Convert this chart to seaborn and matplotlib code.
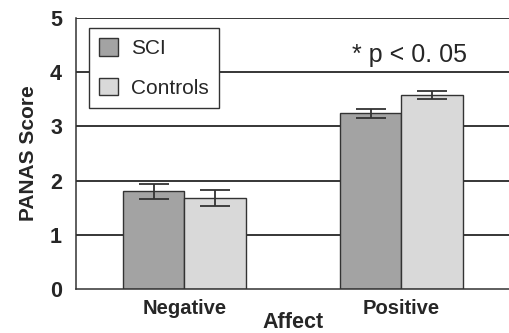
import seaborn as sns
import matplotlib.pyplot as plt
import pandas as pd
import numpy as np

# data
affect = ['Negative', 'Positive']
groups = ['SCI', 'Controls']
sci_mean = [1.80, 3.24]
sci_se = [0.14, 0.09]
ctrl_mean = [1.68, 3.58]
ctrl_se = [0.14, 0.08]
y_ticks = [0, 1, 2, 3, 4, 5]


def main():
    sns.set_style('white')
    plt.rcParams['font.family'] = ['Liberation Sans', 'DejaVu Sans']

    df = pd.DataFrame({
        'Affect': affect * 2,
        'Group': [groups[0]] * 2 + [groups[1]] * 2,
        'Score': sci_mean + ctrl_mean,
    })
    errs = sci_se + ctrl_se

    fig = plt.figure(figsize=(5.1, 3.33), dpi=100)
    ax = fig.add_axes([0.149, 0.132, 0.851, 0.814])

    # gridlines behind the bars
    for y in y_ticks[1:]:
        ax.axhline(y, color='black', lw=1.1, zorder=0)

    sns.barplot(data=df, x='Affect', y='Score', hue='Group', order=affect,
                hue_order=groups, palette=['#a3a3a3', '#d9d9d9'],
                width=0.57, edgecolor='#333333', linewidth=1.0,
                errorbar=None, ax=ax, zorder=2)

    # error bars on top of each bar (patches are in hue order)
    bars = [p for p in ax.patches if p.get_height() > 0][:4]
    xs = [p.get_x() + p.get_width() / 2 for p in bars]
    hs = [p.get_height() for p in bars]
    ax.errorbar(xs, hs, yerr=errs, fmt='none', ecolor='#333333',
                elinewidth=1.3, capsize=10.5, capthick=1.3, zorder=3)

    ax.set_xlim(-0.5, 1.5)
    ax.set_ylim(0, 5)
    ax.set_yticks(y_ticks)
    ax.set_xticks([0.5], minor=True)
    ax.tick_params(axis='x', which='major', length=0, pad=7)
    ax.tick_params(axis='x', which='minor', length=6, width=1, direction='out',
                   color='#333333')
    ax.tick_params(axis='y', length=7, width=1, direction='out', color='#333333',
                   pad=3)
    for lab in ax.get_yticklabels():
        lab.set_fontsize(15.5)
        lab.set_fontweight('bold')
    for lab in ax.get_xticklabels():
        lab.set_fontsize(14.5)
        lab.set_fontweight('bold')

    for s in ['top', 'right']:
        ax.spines[s].set_visible(False)
    for s in ['left', 'bottom']:
        ax.spines[s].set_color('#333333')
        ax.spines[s].set_linewidth(1.1)

    ax.set_xlabel('Affect', fontsize=15.5, fontweight='bold', labelpad=-4)
    ax.set_ylabel('PANAS Score', fontsize=15, fontweight='bold', labelpad=9)

    ax.text(1.035, 4.32, '* p < 0. 05', fontsize=18, ha='center', va='center')

    leg = ax.legend(loc='upper left', bbox_to_anchor=(89 / 510, 1 - 28 / 333),
                    bbox_transform=fig.transFigure, fontsize=15,
                    frameon=True, fancybox=False, handlelength=0.9,
                    handleheight=0.9, handletextpad=0.6, labelspacing=0.95,
                    borderpad=0.5, borderaxespad=0)
    leg.get_frame().set_edgecolor('#333333')
    leg.get_frame().set_linewidth(1.0)
    leg.get_frame().set_alpha(1)

    fig.savefig('out.png', dpi=100)


if __name__ == "__main__":
    main()
